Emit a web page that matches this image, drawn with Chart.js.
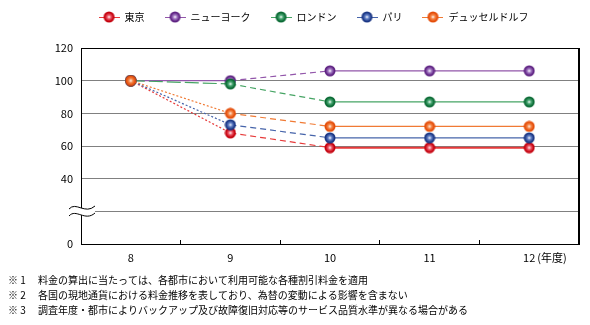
<!DOCTYPE html>
<html lang="ja">
<head>
<meta charset="utf-8">
<script src="https://cdn.jsdelivr.net/npm/chart.js@4"></script>
<style>
    html, body { margin: 0; padding: 0; background: #fff; }
    #chart { display: block; }
</style>
</head>
<body>
<canvas id="chart" width="590" height="325"></canvas>
<script>
// ===== DATA =====
const years = ['8', '9', '10', '11', '12'];
const cityNames = ['東京', 'ニューヨーク', 'ロンドン', 'パリ', 'デュッセルドルフ'];
const tokyo = [100, 68, 59, 59, 59];
const newYork = [100, 100, 106, 106, 106];
const london = [100, 98, 87, 87, 87];
const paris = [100, 73, 65, 65, 65];
const duesseldorf = [100, 80, 72, 72, 72];
const yTicks = [0, 40, 60, 80, 100, 120];
const footnotes = [
    '※ 1　 料金の算出に当たっては、各都市において利用可能な各種割引料金を適用',
    '※ 2　 各国の現地通貨における料金推移を表しており、為替の変動による影響を含まない',
    '※ 3　 調査年度・都市によりバックアップ及び故障復旧対応等のサービス品質水準が異なる場合がある'
];

const FONT = "'Noto Sans CJK JP', 'Noto Sans', sans-serif";

// colours: line, ball edge, ball mid
const styles = [
    { line: '#e63a3a', edge: '#c4000c', mid: '#ee5868' },
    { line: '#9256aa', edge: '#5e2282', mid: '#a47ac4' },
    { line: '#46a464', edge: '#0a6a34', mid: '#4caa76' },
    { line: '#4664aa', edge: '#1a3684', mid: '#6482c8' },
    { line: '#f07a34', edge: '#e44c08', mid: '#f68a4c' }
];

// dash patterns for the 8->9 and 9->10 segments
const dashes = [
    [[2, 2], [6, 4]],
    [[], [6, 4]],
    [[14, 4], [6, 4]],
    [[2, 2], [6, 4]],
    [[2, 2], [6, 4]]
];

function drawBall(ctx, cx, cy, r, s) {
    const g = ctx.createRadialGradient(cx, cy, 0, cx, cy, r);
    g.addColorStop(0, '#ffffff');
    g.addColorStop(0.35, s.mid);
    g.addColorStop(0.8, s.edge);
    g.addColorStop(1, s.edge);
    ctx.fillStyle = g;
    ctx.beginPath();
    ctx.arc(cx, cy, r, 0, Math.PI * 2);
    ctx.fill();
}

function makeBall(s) {
    const c = document.createElement('canvas');
    c.width = 12;
    c.height = 12;
    drawBall(c.getContext('2d'), 6, 6, 5.5, s);
    return c;
}

function makeLegendIcon(s) {
    const c = document.createElement('canvas');
    c.width = 21;
    c.height = 12;
    const ctx = c.getContext('2d');
    ctx.strokeStyle = s.line;
    ctx.lineWidth = 1;
    ctx.beginPath();
    ctx.moveTo(0, 6.5);
    ctx.lineTo(21, 6.5);
    ctx.stroke();
    drawBall(ctx, 10.5, 6, 5.5, s);
    return c;
}

const seriesData = [tokyo, newYork, london, paris, duesseldorf];
const legendIcons = styles.map(makeLegendIcon);

const datasets = seriesData.map((values, i) => ({
    label: cityNames[i],
    data: values,
    xAxisID: 'x',
    yAxisID: 'y',
    borderColor: styles[i].line,
    borderWidth: i === 0 ? 2 : 1.2,
    pointStyle: makeBall(styles[i]),
    pointRadius: 6,
    pointHoverRadius: 6,
    fill: false,
    tension: 0,
    segment: {
        borderDash: ctx => ctx.p0DataIndex < 2 ? dashes[i][ctx.p0DataIndex] : undefined,
        borderWidth: ctx => ctx.p0DataIndex < 2 ? 1.2 : undefined
    }
})).reverse(); // tokyo on top

// ===== PLUGINS =====
const legendShift = {
    id: 'legendShift',
    afterLayout(chart) {
        const l = chart.legend;
        l.left += 20;
        l.right += 20;
        l.top -= 16;
        l.bottom -= 16;
    }
};

const extras = {
    id: 'extras',
    afterDraw(chart) {
        const { ctx, chartArea: a } = chart;
        const yScale = chart.scales.y;
        const xScale = chart.scales.x;
        const l = Math.round(a.left);
        const t = Math.round(a.top);
        const r = Math.round(a.right);
        const b = Math.round(a.bottom);

        ctx.save();
        // frame top and right
        ctx.fillStyle = '#000';
        ctx.fillRect(l, t, r - l, 1);
        ctx.fillRect(r - 1, t, 1, b - t);

        // axis break mark on the 20 line
        const y = Math.round(yScale.getPixelForValue(20));
        const x0 = l - 12;
        const x1 = l + 14;
        ctx.fillStyle = '#fff';
        ctx.beginPath();
        ctx.moveTo(x0, y - 2);
        ctx.bezierCurveTo(x0 + 7, y - 10, x0 + 16, y + 4, x1, y - 5);
        ctx.lineTo(x1, y + 2);
        ctx.bezierCurveTo(x0 + 16, y + 11, x0 + 7, y - 3, x0, y + 5);
        ctx.closePath();
        ctx.fill();
        ctx.strokeStyle = '#000';
        ctx.lineWidth = 1;
        ctx.setLineDash([]);
        ctx.beginPath();
        ctx.moveTo(x0, y - 2);
        ctx.bezierCurveTo(x0 + 7, y - 10, x0 + 16, y + 4, x1, y - 5);
        ctx.moveTo(x0, y + 5);
        ctx.bezierCurveTo(x0 + 7, y - 3, x0 + 16, y + 11, x1, y + 2);
        ctx.stroke();

        // unit after the last category label
        ctx.fillStyle = '#000';
        ctx.font = '11px ' + FONT;
        ctx.textAlign = 'left';
        ctx.textBaseline = 'middle';
        ctx.fillText('(年度)', xScale.getPixelForValue(years.length - 1) + 8, xScale.top + 14);
        ctx.restore();
    }
};

// ===== CHART =====
new Chart(document.getElementById('chart'), {
    type: 'line',
    data: { labels: years, datasets: datasets },
    plugins: [legendShift, extras],
    options: {
        responsive: false,
        animation: false,
        layout: { padding: { top: 8, left: 8, right: 11, bottom: 0 } },
        plugins: {
            tooltip: { enabled: false },
            legend: {
                position: 'top',
                reverse: true,
                labels: {
                    usePointStyle: true,
                    pointStyleWidth: 21,
                    padding: 20,
                    color: '#000',
                    font: { family: FONT, size: 10 },
                    generateLabels(chart) {
                        const items = Chart.defaults.plugins.legend.labels.generateLabels(chart);
                        items.forEach(item => {
                            item.pointStyle = legendIcons[cityNames.indexOf(item.text)];
                        });
                        return items;
                    }
                }
            },
            title: {
                display: true,
                position: 'bottom',
                align: 'start',
                text: footnotes,
                color: '#000',
                font: { family: FONT, size: 10, weight: 'normal', lineHeight: 1.5 },
                padding: { top: 0, bottom: 7 }
            }
        },
        scales: {
            x: {
                offset: true,
                grid: {
                    offset: true,
                    drawOnChartArea: false,
                    drawTicks: true,
                    tickLength: -4,
                    color: '#000'
                },
                border: { display: true, color: '#000' },
                ticks: {
                    color: '#000',
                    padding: 11,
                    maxRotation: 0,
                    font: { family: FONT, size: 11 }
                },
                afterFit(scale) { scale.height = 29; }
            },
            y: {
                min: 0,
                max: 120,
                grid: {
                    color: ctx => (ctx.tick && (ctx.tick.value === 0 || ctx.tick.value === 120)) ? 'rgba(0,0,0,0)' : '#808080',
                    drawTicks: false
                },
                border: { display: true, color: '#000' },
                ticks: {
                    stepSize: 20,
                    padding: 8,
                    color: '#000',
                    font: { family: FONT, size: 11 },
                    callback: v => yTicks.includes(v) ? String(v) : ''
                },
                afterFit(scale) { scale.width = 73; }
            },
            xTop: {
                type: 'category',
                labels: years,
                position: 'top',
                offset: true,
                grid: { display: false },
                ticks: { display: false },
                border: { display: true, color: '#000' },
                afterFit(scale) { scale.height = 0; }
            },
            yRight: {
                position: 'right',
                min: 0,
                max: 120,
                grid: { display: false },
                ticks: { display: false },
                border: { display: true, color: '#000' },
                afterFit(scale) { scale.width = 0; }
            }
        }
    }
});
</script>
</body>
</html>
